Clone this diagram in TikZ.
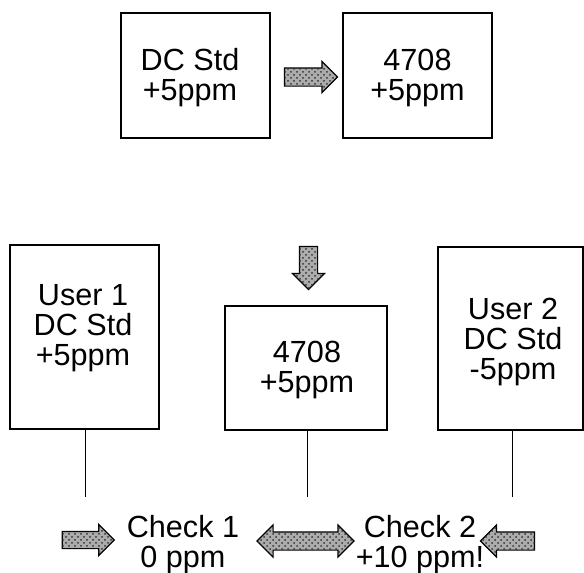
\documentclass[tikz,border=0pt]{standalone}
\usepackage{fontspec}
\setmainfont{Liberation Sans}
\usetikzlibrary{shapes.arrows,patterns,positioning}
\tikzset{
  box/.style={draw=black,line width=0.75pt,inner sep=0pt},          % instrument box
  txt/.style={align=center,font=\fontsize{15.3}{15}\selectfont,inner sep=0pt},
  dots/.style={fill=gray!65,postaction={pattern=crosshatch dots,pattern color=black!80}},
  fat/.style={single arrow,draw=black,dots,line width=0.6pt,
    inner sep=0pt,single arrow head indent=0pt},
  dfat/.style={double arrow,draw=black,dots,line width=0.6pt,
    inner sep=0pt,double arrow head indent=0pt},
  wire/.style={black,line width=0.5pt},
}

\begin{document}
\begin{tikzpicture}[x=0.5pt,y=-0.5pt]
  \useasboundingbox (0,0) rectangle (584,573);
  % calibration of the 4708
  \node[box,minimum width=74.5pt,minimum height=62.5pt] (std) at (195.5,75.5) {};
  \node[txt] (ts) at (190,78) {DC Std\\+5ppm};
  \node[box,minimum width=74.5pt,minimum height=62.5pt] (cal) at (417.5,75.5) {};
  \node[txt] (tc) at (417.5,78) {4708\\+5ppm};
  \node[fat,minimum height=26.5pt,inner ysep=4.25pt,single arrow head extend=3.25pt] (a1) at (306.5,77) {};
  \node[fat,shape border rotate=270,minimum height=21.5pt,inner xsep=4.25pt,single arrow head extend=3.5pt] (a2) at (308.5,263.5) {};
  % the two users
  \node[box,minimum width=74.5pt,minimum height=92pt] (u1) at (84.5,337) {};
  \node[txt] (t1) at (83,328) {User 1\\DC Std\\+5ppm};
  \node[box,minimum width=81pt,minimum height=62pt] (mid) at (306,368) {};
  \node[txt] (tm) at (307,370) {4708\\+5ppm};
  \node[box,minimum width=72.5pt,minimum height=91.5pt] (u2) at (510.5,338.5) {};
  \node[txt] (t2) at (513,342) {User 2\\DC Std\\-5ppm};
  % leads
  \coordinate (e1) at (85,497);
  \coordinate (em) at (307,497);
  \coordinate (e2) at (512,497);
  \draw[wire] (u1.south -| e1) -- (e1);
  \draw[wire] (mid.south -| em) -- (em);
  \draw[wire] (u2.south -| e2) -- (e2);
  % checks
  \node[txt] (c1) at (183,545) {Check 1\\0 ppm};
  \node[txt] (c2) at (420,545) {Check 2\\+10 ppm!};
  \node[fat,minimum height=26pt,inner ysep=4pt,single arrow head extend=3.5pt] (b1) at (84,540) {};
  \node[dfat,minimum height=48.5pt,inner ysep=4.25pt,double arrow head extend=3.5pt] (b2) at (305.5,541) {};
  \node[fat,shape border rotate=180,minimum height=27pt,inner ysep=4.25pt,single arrow head extend=3.5pt] (b3) at (512,541) {};
\end{tikzpicture}
\end{document}
